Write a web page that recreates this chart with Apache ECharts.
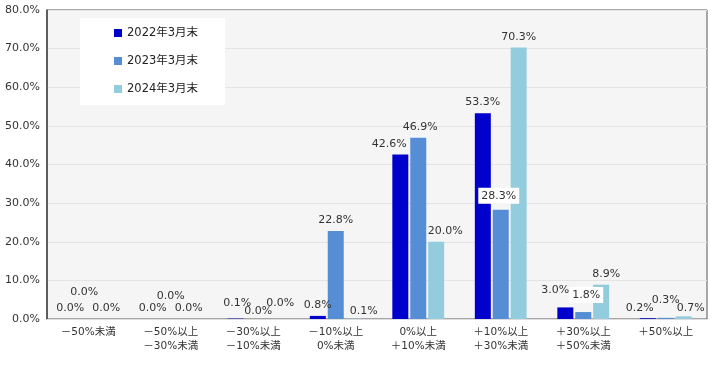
<!DOCTYPE html>
<html><head><meta charset="utf-8">
<script src="https://cdn.jsdelivr.net/npm/echarts@6/dist/echarts.min.js"></script>
<style>html,body{margin:0;padding:0;background:#fff}#c{width:720px;height:367px}</style>
</head><body><div id="c"></div>
<script>
const categories = ['－50%未満', '－50%以上\n－30%未満', '－30%以上\n－10%未満', '－10%以上\n0%未満', '0%以上\n＋10%未満', '＋10%以上\n＋30%未満', '＋30%以上\n＋50%未満', '＋50%以上'];
const seriesNames = ['2022年3月末', '2023年3月末', '2024年3月末'];
const values2022 = [0.0, 0.0, 0.1, 0.8, 42.6, 53.3, 3.0, 0.2];
const values2023 = [0.0, 0.0, 0.0, 22.8, 46.9, 28.3, 1.8, 0.3];
const values2024 = [0.0, 0.0, 0.0, 0.1, 20.0, 70.3, 8.9, 0.7];
const yTicks = [0, 10, 20, 30, 40, 50, 60, 70, 80];

const colors = ['#0000CC', '#558ED5', '#93CDDD'];
const FONT = 'DejaVu Sans, Noto Sans CJK JP, sans-serif';
// label adjustments [series][category] -> {offset, boxed}
const labelAdj = [
  {2: {offset: [2, -5]}, 4: {offset: [-11, 0]}, 6: {offset: [-10, -7]}, 7: {offset: [-8, 0]}},
  {0: {offset: [-4, -16]}, 1: {offset: [0, -12]}, 2: {offset: [5, 3]}, 4: {offset: [2, 0]}, 5: {offset: [-2, -1], boxed: true}, 6: {offset: [3, -4], boxed: true}, 7: {offset: [0, -7]}},
  {2: {offset: [9, -5]}, 3: {offset: [10, 3]}, 4: {offset: [9, 0]}, 6: {offset: [5, 0]}, 7: {offset: [7, 2]}}
];
const allValues = [values2022, values2023, values2024];

function buildData(si) {
  return allValues[si].map((v, ci) => {
    const adj = labelAdj[si][ci];
    if (!adj) return v;
    const lab = {offset: adj.offset};
    if (adj.boxed) { lab.backgroundColor = '#fff'; lab.padding = [3, 3, 2, 3]; }
    return {value: v, label: lab};
  });
}

const chart = echarts.init(document.getElementById('c'), null, {renderer: 'canvas'});
chart.setOption({
  animation: false,
  textStyle: {fontFamily: FONT},
  grid: {left: 47, right: 13, top: 10, bottom: 48, show: true, backgroundColor: '#f5f5f5', borderColor: '#555', borderWidth: 1},
  legend: {
    orient: 'vertical', left: 80, top: 18,
    data: seriesNames,
    backgroundColor: '#fff',
    padding: [8, 27, 9, 34],
    itemWidth: 8, itemHeight: 8, itemGap: 14,
    textStyle: {fontSize: 11.5, color: '#222', fontFamily: FONT, lineHeight: 14},
    icon: 'rect'
  },
  xAxis: {
    type: 'category', data: categories,
    axisLine: {show: true, lineStyle: {color: '#ddd', width: 1}},
    axisTick: {show: false},
    axisLabel: {fontSize: 10.5, color: '#333', lineHeight: 14, margin: 6, interval: 0, fontFamily: FONT}
  },
  yAxis: {
    type: 'value', min: yTicks[0], max: yTicks[yTicks.length - 1], interval: 10,
    axisLine: {show: true, lineStyle: {color: '#444', width: 1.5}},
    axisTick: {show: false},
    splitLine: {lineStyle: {color: '#e4e4e4'}},
    axisLabel: {fontSize: 11, color: '#333', margin: 7, formatter: v => v.toFixed(1) + '%', fontFamily: FONT}
  },
  series: seriesNames.map((name, si) => ({
    name, type: 'bar', data: buildData(si),
    barWidth: 16, barGap: '12%',
    itemStyle: {color: colors[si]},
    label: {show: true, position: 'top', distance: 5, fontSize: 11, color: '#333', fontFamily: FONT,
      formatter: p => p.value.toFixed(1) + '%'}
  }))
});
</script></body></html>
